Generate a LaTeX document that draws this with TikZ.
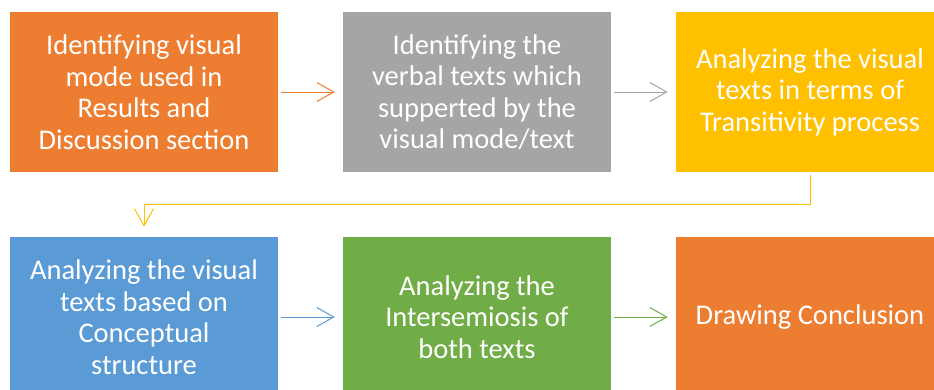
\documentclass[tikz,border=0pt]{standalone}
\usepackage{fontspec}
\setmainfont{Carlito}
\usetikzlibrary{arrows.meta}
\definecolor{cOrange}{HTML}{ED7D31}
\definecolor{cGray}{HTML}{A5A5A5}
\definecolor{cGold}{HTML}{FFC000}
\definecolor{cBlue}{HTML}{5B9BD5}
\definecolor{cGreen}{HTML}{70AD47}
\tikzset{
  stepbox/.style={rectangle, minimum width=268pt, minimum height=160pt, inner sep=0pt,
    text=white, align=center, font=\fontsize{28.5}{31.5}\selectfont},
  flow/.style={line width=1pt, -{Straight Barb[length=17pt,width=19pt,line width=1pt]},
    shorten <=3pt, shorten >=8pt}
}
\begin{document}
\begin{tikzpicture}[x=1pt,y=-1pt]
\useasboundingbox (0,0) rectangle (934,389);
\clip (0,0) rectangle (934,389);
\node[stepbox, fill=cOrange] (b1) at (144,92) {Identifying visual\\mode used in\\Results and\\Discussion section};
\node[stepbox, fill=cGray] (b2) at (477,92) {Identifying the\\verbal texts which\\supperted by the\\visual mode/text};
\node[stepbox, fill=cGold] (b3) at (810,92) {Analyzing the visual\\texts in terms of\\Transitivity process};
\node[stepbox, fill=cBlue] (b4) at (144,317) {Analyzing the visual\\texts based on\\Conceptual\\structure};
\node[stepbox, fill=cGreen] (b5) at (477,317) {Analyzing the\\Intersemiosis of\\both texts};
\node[stepbox, fill=cOrange] (b6) at (810,317) {Drawing Conclusion};
\draw[flow, cOrange] (b1) -- (b2);
\draw[flow, cGray] (b2) -- (b3);
\draw[flow, cGold, shorten >=10pt] (b3.south) -- ++(0,32) -| (b4.north);
\draw[flow, cBlue] (b4) -- (b5);
\draw[flow, cGreen] (b5) -- (b6);
\end{tikzpicture}
\end{document}
